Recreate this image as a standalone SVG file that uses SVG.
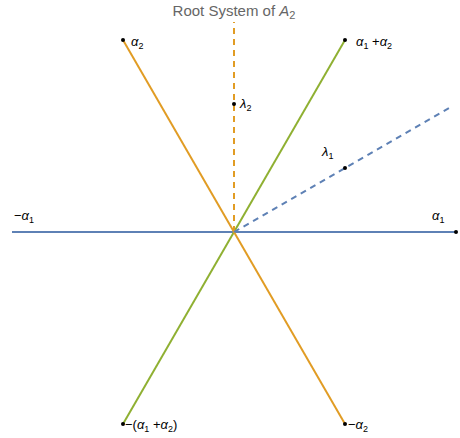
<svg xmlns="http://www.w3.org/2000/svg" width="460" height="438" viewBox="0 0 460 438">
<style>
.t{font-family:"Liberation Sans",Arial,sans-serif;font-size:13px;fill:#000}
.i{font-style:italic}
.s{font-size:9px}
.title{font-family:"Liberation Sans",Arial,sans-serif;font-size:15px;fill:#666}
.dot{fill:#000}
</style>
<rect width="460" height="438" fill="#fff"/>
<text class="title" x="234" y="16" text-anchor="middle">Root System of <tspan font-style="italic">A</tspan><tspan font-size="11" dy="3">2</tspan></text>
<g id="connectors" fill="none" stroke-width="2">
<line x1="12" y1="232" x2="456" y2="232" stroke="#5E81B5"/>
<line x1="123" y1="424" x2="345" y2="40" stroke="#8FB032"/>
<line x1="123" y1="40" x2="345" y2="424" stroke="#E19C24"/>
<line x1="234" y1="232" x2="234" y2="22" stroke="#E19C24" stroke-dasharray="6,5"/>
<line x1="234" y1="232" x2="451" y2="107" stroke="#5E81B5" stroke-dasharray="6,5"/>
</g>
<g id="alpha1"><circle class="dot" cx="456" cy="232" r="2"/><text class="t" x="432" y="220"><tspan class="i">α</tspan><tspan class="s" dy="3">1</tspan></text></g>
<g id="neg-alpha1"><text class="t" x="14" y="220">−<tspan class="i">α</tspan><tspan class="s" dy="3">1</tspan></text></g>
<g id="alpha2"><circle class="dot" cx="123" cy="40" r="2"/><text class="t" x="131" y="46"><tspan class="i">α</tspan><tspan class="s" dy="3">2</tspan></text></g>
<g id="alpha1-plus-alpha2"><circle class="dot" cx="345" cy="40" r="2"/><text class="t" x="356" y="46"><tspan class="i">α</tspan><tspan class="s" dy="3">1</tspan><tspan dy="-3"> +</tspan><tspan class="i">α</tspan><tspan class="s" dy="3">2</tspan></text></g>
<g id="neg-alpha2"><circle class="dot" cx="345" cy="424" r="2"/><text class="t" x="348" y="429">−<tspan class="i">α</tspan><tspan class="s" dy="3">2</tspan></text></g>
<g id="neg-alpha1-plus-alpha2"><circle class="dot" cx="123" cy="424" r="2"/><text class="t" x="125" y="429">−(<tspan class="i">α</tspan><tspan class="s" dy="3">1</tspan><tspan dy="-3"> +</tspan><tspan class="i">α</tspan><tspan class="s" dy="3">2</tspan><tspan dy="-3">)</tspan></text></g>
<g id="lambda1"><circle class="dot" cx="345" cy="168" r="2"/><text class="t" x="322" y="156"><tspan class="i">λ</tspan><tspan class="s" dy="3">1</tspan></text></g>
<g id="lambda2"><circle class="dot" cx="234" cy="104" r="2"/><text class="t" x="240" y="108"><tspan class="i">λ</tspan><tspan class="s" dy="3">2</tspan></text></g>
</svg>
